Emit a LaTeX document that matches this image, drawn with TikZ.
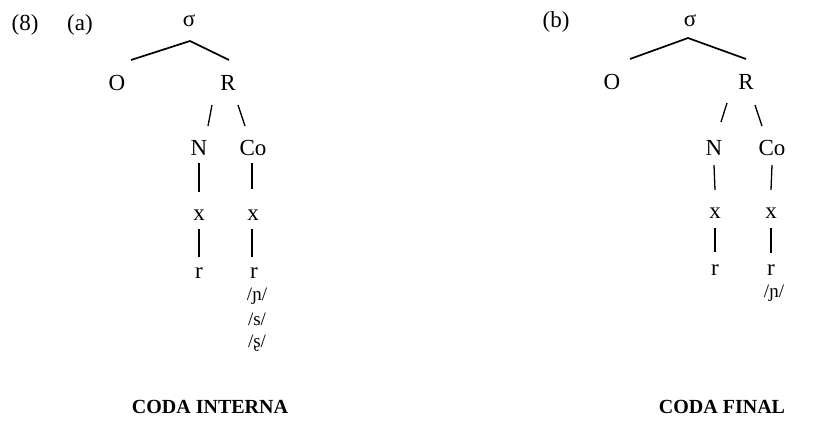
\documentclass[tikz,border=0pt]{standalone}
\usepackage{fontspec}
\setmainfont{Liberation Serif}
\begin{document}
\begin{tikzpicture}[x=1pt,y=-1pt,
  every node/.style={inner sep=0pt, anchor=center, font=\fontsize{23}{27}\selectfont},
  phon/.style={font=\fontsize{19}{22}\selectfont},
  branch/.style={line width=1.7pt},
  stem/.style={line width=1.3pt},
  caption/.style={font=\fontsize{20}{24}\selectfont\bfseries}]
\useasboundingbox (0,0) rectangle (820,433);

% ---------- (a) internal coda ----------
\node (ex) at (25,25) {(8)};
\node (la) at (80,25) {(a)};
\node (sa) at (189,21) {σ};
\node (Oa) at (117,83) {O};
\node (Ra) at (228,83) {R};
\node (Na) at (199,148) {N};
\node (Ca) at (253,148) {Co};
\node (xNa) at (199,215) {x};
\node (xCa) at (253,215) {x};
\node (rNa) at (199,273) {r};
\node (rCa) at (254,273) {r};
\node[phon] (p1a) at (257,296) {/ɲ/};
\node[phon] (p2a) at (257,319) {/s/};
\node[phon] (p3a) at (257,343) {/ʂ/};
\node[caption] (ca) at (210,407) {CODA INTERNA};

\draw[branch] ([shift={(14,-23)}]Oa.center) -- ([shift={(1,20)}]sa.center) -- ([shift={(1,-23)}]Ra.center);
\draw[stem] ([shift={(-16,22)}]Ra.center) -- ([shift={(9,-22)}]Na.center);
\draw[stem] ([shift={(10,22)}]Ra.center) -- ([shift={(-8,-22)}]Ca.center);
\draw[stem] ([shift={(0,15)}]Na.center) -- ([shift={(0,-23)}]xNa.center);
\draw[stem] ([shift={(0,14)}]xNa.center) -- ([shift={(0,-16)}]rNa.center);
\draw[stem] ([shift={(-1,15)}]Ca.center) -- ([shift={(-1,-26)}]xCa.center);
\draw[stem] ([shift={(-1,14)}]xCa.center) -- ([shift={(-2,-16)}]rCa.center);

% ---------- (b) final coda ----------
\node (lb) at (556,22) {(b)};
\node (sb) at (690,21) {σ};
\node (Ob) at (612,82) {O};
\node (Rb) at (746,82) {R};
\node (Nb) at (714,148) {N};
\node (Cb) at (772,148) {Co};
\node (xNb) at (715,213) {x};
\node (xCb) at (771,213) {x};
\node (rNb) at (715,270) {r};
\node (rCb) at (771,270) {r};
\node[phon] (p1b) at (774,293) {/ɲ/};
\node[caption] (cb) at (722,407) {CODA FINAL};

\draw[branch] ([shift={(18,-23)}]Ob.center) -- ([shift={(-2,17)}]sb.center) -- ([shift={(0,-23)}]Rb.center);
\draw[stem] ([shift={(-19,21)}]Rb.center) -- ([shift={(7,-26)}]Nb.center);
\draw[stem] ([shift={(9,23)}]Rb.center) -- ([shift={(-10,-22)}]Cb.center);
\draw[stem] ([shift={(0,17)}]Nb.center) -- ([shift={(0,-23)}]xNb.center);
\draw[stem] ([shift={(0,15)}]xNb.center) -- ([shift={(0,-18)}]rNb.center);
\draw[stem] ([shift={(0,17)}]Cb.center) -- ([shift={(0,-23)}]xCb.center);
\draw[stem] ([shift={(0,15)}]xCb.center) -- ([shift={(0,-17)}]rCb.center);
\end{tikzpicture}
\end{document}
